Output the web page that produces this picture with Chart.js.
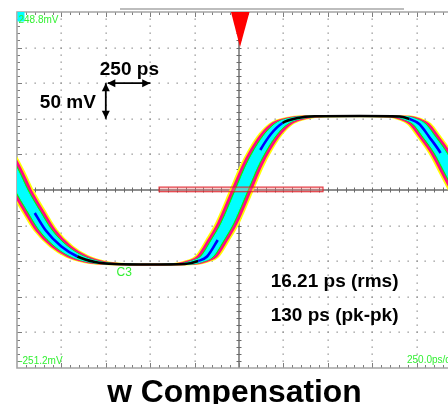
<!DOCTYPE html>
<html>
<head>
<meta charset="utf-8">
<script src="https://cdn.jsdelivr.net/npm/chart.js@4.4.1/dist/chart.umd.min.js"></script>
<style>
html,body{margin:0;padding:0;background:#fff;overflow:hidden;width:448px;height:404px;}
#wrap{position:relative;width:448px;height:404px;overflow:hidden;}
canvas{display:block;}
</style>
</head>
<body>
<div id="wrap"><canvas id="c" width="470" height="404" style="width:470px;height:404px"></canvas></div>
<script>
// ---------------- DATA (read from the scope screen) ----------------
// screen ranges: 10 divisions of 250 ps horizontally, 10 divisions of 50 mV vertically
const xRangePs = [-1250, 1250];
const yRangeMv = [-251.2, 248.8];
const timeDivPs = 250;
const voltDivMv = 50;
// screen readouts
const yTopLabel = '248.8mV';
const yBottomLabel = '-251.2mV';
const timebaseLabel = '250.0ps/div';
const channelLabel = 'C3';
const scaleTimeLabel = '250 ps';
const scaleVoltLabel = '50 mV';
const jitterLabels = ['16.21 ps (rms)', '130 ps (pk-pk)'];
const titleText = 'w Compensation';
// centre of the persistence trace: time (ps) and voltage (mV)
const traceTimePs = [-1740, -1560, -1505, -1450, -1400, -1330, -1270, -1225, -1150, -1090,
                     -1000, -910, -810, -700, -500, -305, -230, -180, -120, -65,
                     15, 70, 120, 180, 245, 330, 425, 680, 905, 960,
                     1015, 1070, 1135, 1195, 1245, 1315, 1380, 1470];
const traceMv = [102.7, 102.0, 98.5, 91.5, 73.7, 50.8, 22.7, -1.2, -33.5, -57.4,
                 -80.6, -94.6, -102.3, -105.1, -105.8, -105.1, -100.9, -94.6, -71.4, -47.5,
                 -1.2, 31.1, 55.0, 77.5, 92.9, 99.9, 102.3, 102.7, 102.0, 98.5,
                 91.5, 73.7, 50.8, 22.7, -1.2, -33.5, -57.4, -80.6];
// jitter measurement window (ps / mV) and trigger position (ps)
const measWindowPs = [-450, 473];
const measWindowMv = [-3.6, 2.9];
const triggerPs = [0];

// ---------------- STYLE ----------------
const FONT = "'Liberation Sans', Arial, Helvetica, sans-serif";
const GREEN = '#33f033';
// persistence colour layers: horizontal half spread (ps) from inner to outer
const bandLayers = [
  { half: 31, color: '#00ffff', bw: 1 },
  { half: 38, color: '#00ff00', bw: 1 },
  { half: 54, color: '#ff0a84', bw: 1.5 },
  { half: 63, color: '#ffff00', bw: 2 }
];

function corePoints(shift) {
  return traceTimePs.map((t, i) => ({ x: t + shift, y: traceMv[i] }));
}
function coreColor(ctx) {
  const dx = Math.abs(ctx.p1.x - ctx.p0.x);
  const dy = Math.abs(ctx.p1.y - ctx.p0.y);
  const s = dy / Math.max(dx, 0.001);
  if (s < 0.35) return '#000000';
  if (s < 1.6) return '#0000ff';
  return 'rgba(0,0,0,0)';
}

const common = { pointRadius: 0, cubicInterpolationMode: 'monotone', clip: 0 };
const datasets = [Object.assign({
  label: 'trace', data: corePoints(0), borderColor: '#000', borderWidth: 2.6, fill: false,
  segment: { borderColor: coreColor }
}, common)];
bandLayers.forEach(L => {
  datasets.push(Object.assign({ data: corePoints(-L.half), fill: '+1', backgroundColor: L.color,
    borderColor: L.color, borderWidth: L.bw }, common));
  datasets.push(Object.assign({ data: corePoints(L.half), fill: false,
    borderColor: L.color, borderWidth: L.bw }, common));
});

const scopePlugin = {
  id: 'scope',
  beforeDatasetsDraw(chart) {
    const { ctx, chartArea: a } = chart;
    const xs = chart.scales.x, ys = chart.scales.y;
    const nx = Math.round((xRangePs[1] - xRangePs[0]) / timeDivPs);
    const ny = Math.round((yRangeMv[1] - yRangeMv[0]) / voltDivMv);
    const X = v => xs.getPixelForValue(v), Y = v => ys.getPixelForValue(v);
    const xc = X((xRangePs[0] + xRangePs[1]) / 2), yc = Y((yRangeMv[0] + yRangeMv[1]) / 2);
    ctx.save();
    // top status bar
    ctx.fillStyle = '#bdbdbd';
    ctx.fillRect(a.left + 103, a.top - 4, 284, 2);
    // dotted grid
    ctx.fillStyle = '#8e8e8e';
    for (let i = 1; i < nx; i++) {
      if (i === nx / 2) continue;
      const x = X(xRangePs[0] + i * timeDivPs);
      for (let j = 1; j < ny * 5; j++) {
        const y = Y(yRangeMv[0] + j * voltDivMv / 5);
        ctx.fillRect(Math.round(x) - 0.5, Math.round(y) - 0.5, 1.3, 1.3);
      }
    }
    for (let k = 1; k < ny; k++) {
      if (k === ny / 2) continue;
      const y = Y(yRangeMv[0] + k * voltDivMv);
      for (let j = 1; j < nx * 5; j++) {
        const x = X(xRangePs[0] + j * timeDivPs / 5);
        ctx.fillRect(Math.round(x) - 0.5, Math.round(y) - 0.5, 1.3, 1.3);
      }
    }
    // centre axes with minor ticks
    ctx.strokeStyle = '#6a6a6a';
    ctx.lineWidth = 1.4;
    ctx.beginPath();
    ctx.moveTo(xc, a.top); ctx.lineTo(xc, a.bottom);
    ctx.moveTo(a.left, yc); ctx.lineTo(a.right, yc);
    ctx.stroke();
    ctx.lineWidth = 1;
    ctx.beginPath();
    for (let j = 1; j < ny * 5; j++) {
      const y = Math.round(Y(yRangeMv[0] + j * voltDivMv / 5)) + 0.5;
      ctx.moveTo(xc - 2.5, y); ctx.lineTo(xc + 2.5, y);
    }
    for (let j = 1; j < nx * 5; j++) {
      const x = Math.round(X(xRangePs[0] + j * timeDivPs / 5)) + 0.5;
      ctx.moveTo(x, yc - 2.5); ctx.lineTo(x, yc + 2.5);
    }
    ctx.stroke();
    // border ticks
    ctx.strokeStyle = '#7d7d7d';
    ctx.beginPath();
    for (let j = 1; j < ny * 5; j++) {
      const y = Math.round(Y(yRangeMv[0] + j * voltDivMv / 5)) + 0.5;
      const L = j % 5 === 0 ? 5 : 3;
      ctx.moveTo(a.left, y); ctx.lineTo(a.left + L, y);
    }
    for (let j = 1; j < nx * 5; j++) {
      const x = Math.round(X(xRangePs[0] + j * timeDivPs / 5)) + 0.5;
      const L = j % 5 === 0 ? 5 : 3;
      ctx.moveTo(x, a.top); ctx.lineTo(x, a.top + L);
      ctx.moveTo(x, a.bottom); ctx.lineTo(x, a.bottom - L);
    }
    ctx.stroke();
    // border
    ctx.strokeStyle = '#a4a4a4';
    ctx.lineWidth = 1.6;
    ctx.beginPath();
    ctx.moveTo(a.right, a.top); ctx.lineTo(a.left, a.top); ctx.lineTo(a.left, a.bottom); ctx.lineTo(a.right, a.bottom);
    ctx.stroke();
    ctx.restore();
  },
  afterDatasetsDraw(chart) {
    const { ctx, chartArea: a } = chart;
    const xs = chart.scales.x, ys = chart.scales.y;
    const X = v => xs.getPixelForValue(v), Y = v => ys.getPixelForValue(v);
    ctx.save();
    // channel marker box + readouts
    ctx.fillStyle = '#00ffff';
    ctx.fillRect(a.left + 0.5, a.top, 7, 9.5);
    ctx.fillStyle = GREEN;
    ctx.font = '10px ' + FONT;
    ctx.textBaseline = 'alphabetic';
    ctx.textAlign = 'left';
    ctx.fillText(yTopLabel, a.left + 1.5, a.top + 11.3);
    ctx.fillText(yBottomLabel, a.left + 2.2, a.bottom - 4.3);
    ctx.fillText(timebaseLabel, X(xRangePs[1]) - 54, a.bottom - 4.8);
    ctx.font = '12px ' + FONT;
    ctx.fillText(channelLabel, a.left + 99.5, Y(yRangeMv[0]) - 92);
    // measurement window
    const r0 = X(measWindowPs[0]), r1 = X(measWindowPs[1]);
    const t0 = Y(measWindowMv[1]), t1 = Y(measWindowMv[0]);
    ctx.fillStyle = 'rgba(240,120,120,0.35)';
    ctx.fillRect(r0, t0, r1 - r0, t1 - t0);
    ctx.strokeStyle = 'rgba(225,30,40,0.85)';
    ctx.lineWidth = 1.2;
    ctx.strokeRect(r0, t0, r1 - r0, t1 - t0);
    // trigger marker
    const tx = X(triggerPs[0]);
    ctx.fillStyle = '#ff0000';
    ctx.beginPath();
    ctx.moveTo(tx - 8, a.top); ctx.lineTo(tx + 10.5, a.top); ctx.lineTo(tx + 1, a.top + 35); ctx.closePath();
    ctx.fill();
    // scale arrows: one division each way from a grid intersection
    const ox = X(xRangePs[0] + 2 * timeDivPs), oy = Y(yRangeMv[1] - 2 * voltDivMv);
    const ex = X(xRangePs[0] + 3 * timeDivPs), ey = Y(yRangeMv[1] - 3 * voltDivMv);
    ctx.strokeStyle = '#000'; ctx.fillStyle = '#000'; ctx.lineWidth = 1.8;
    ctx.beginPath();
    ctx.moveTo(ox + 2, oy); ctx.lineTo(ex, oy);
    ctx.moveTo(ox, oy); ctx.lineTo(ox, ey);
    ctx.stroke();
    const head = (x, y, dx, dy) => {
      ctx.beginPath();
      ctx.moveTo(x, y);
      ctx.lineTo(x - dx * 8 - dy * 4, y - dy * 8 - dx * 4);
      ctx.lineTo(x - dx * 8 + dy * 4, y - dy * 8 + dx * 4);
      ctx.closePath(); ctx.fill();
    };
    head(ox + 1.5, oy, -1, 0); head(ex, oy, 1, 0);
    head(ox, oy, 0, -1); head(ox, ey, 0, 1);
    // annotations
    ctx.font = 'bold 19px ' + FONT;
    ctx.fillText(scaleTimeLabel, ox - 6, oy - 8.7);
    ctx.textAlign = 'right';
    ctx.fillText(scaleVoltLabel, ox - 10, oy + 25);
    ctx.textAlign = 'left';
    ctx.fillText(jitterLabels[0], a.left + 253.7, a.bottom - 81.5);
    ctx.fillText(jitterLabels[1], a.left + 253.7, a.bottom - 47.5);
    // title
    ctx.font = 'bold 31.8px ' + FONT;
    ctx.textAlign = 'center';
    ctx.fillText(titleText, 234.5, a.bottom + 33.5);
    ctx.restore();
  }
};

new Chart(document.getElementById('c'), {
  type: 'line',
  data: { datasets },
  options: {
    responsive: false,
    animation: false,
    events: [],
    layout: { padding: { left: 17, top: 12, right: 9, bottom: 36 } },
    scales: {
      x: { type: 'linear', min: xRangePs[0], max: xRangePs[1], display: false },
      y: { type: 'linear', min: yRangeMv[0], max: yRangeMv[1], display: false }
    },
    plugins: { legend: { display: false }, tooltip: { enabled: false }, title: { display: false } }
  },
  plugins: [scopePlugin]
});
</script>
</body>
</html>
